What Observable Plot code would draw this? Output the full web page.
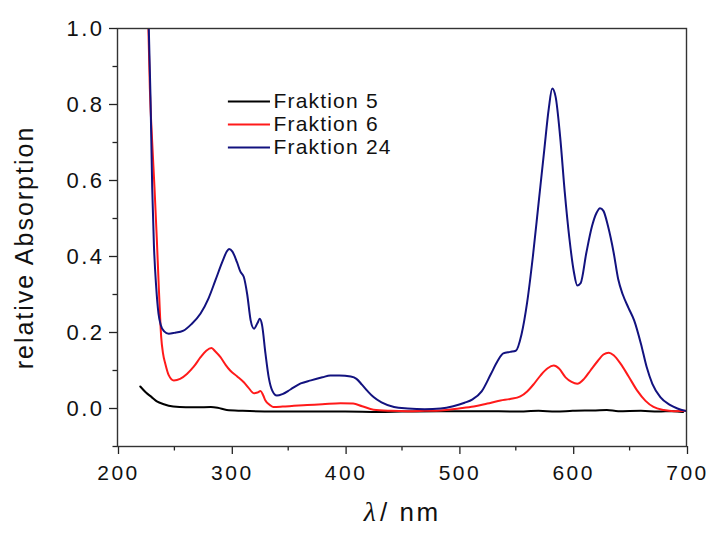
<!DOCTYPE html>
<html>
<head>
<meta charset="utf-8">
<script src="https://cdn.jsdelivr.net/npm/d3@7"></script>
<script src="https://cdn.jsdelivr.net/npm/@observablehq/plot@0.6"></script>
<style>
  html, body { margin: 0; padding: 0; background: #fff; }
  #chart { width: 708px; height: 535px; }
</style>
</head>
<body>
<div id="chart"></div>
<script>
// ---- data ----
const seriesNames = ["Fraktion 5", "Fraktion 6", "Fraktion 24"];
const seriesColors = ["#000000", "#ff1a1a", "#12127f"];

const f5Nm  = [220, 225, 230, 235, 240, 249, 260, 270, 282, 288, 296, 310, 337, 360, 400, 430, 450, 484, 520, 550, 570, 585, 600, 620, 630, 640, 660, 675, 688, 697];
const f5Abs = [0.058, 0.042, 0.030, 0.018, 0.012, 0.005, 0.003, 0.003, 0.004, 0.002, -0.004, -0.006, -0.008, -0.008, -0.008, -0.009, -0.008, -0.007, -0.007, -0.008, -0.006, -0.008, -0.006, -0.005, -0.004, -0.007, -0.006, -0.008, -0.007, -0.009];

const f6Nm  = [226.5, 228.4, 230.5, 232.5, 234.5, 236.3, 238.4, 240, 242, 245, 249.5, 255, 261, 267, 273, 278, 282.6, 286, 290.5, 295, 299, 305, 311, 315, 320, 323, 325.7, 328, 330, 334, 337, 345, 355, 366.7, 380, 396, 407, 415, 425, 440, 455, 470, 484, 500, 513, 525, 536.6, 545, 554, 560, 566, 572, 578, 583.4, 588, 593.7, 599, 604, 610, 615.6, 622, 627, 631.7, 636, 642, 649, 656.7, 664, 671, 680, 688.8, 700];
const f6Abs = [1.08, 0.845, 0.70, 0.582, 0.45, 0.319, 0.188, 0.145, 0.118, 0.088, 0.074, 0.078, 0.091, 0.110, 0.135, 0.152, 0.159, 0.150, 0.135, 0.115, 0.100, 0.085, 0.069, 0.055, 0.040, 0.042, 0.046, 0.035, 0.021, 0.009, 0.004, 0.005, 0.007, 0.009, 0.011, 0.014, 0.013, 0.006, -0.003, -0.006, -0.007, -0.006, -0.005, 0.000, 0.005, 0.013, 0.021, 0.025, 0.032, 0.045, 0.065, 0.088, 0.106, 0.113, 0.105, 0.082, 0.070, 0.065, 0.078, 0.100, 0.125, 0.142, 0.147, 0.140, 0.118, 0.085, 0.047, 0.020, 0.004, -0.004, -0.007, -0.006];

const f24Nm  = [226, 227.5, 229, 230.5, 232, 234, 236, 238, 241, 245, 250, 258, 265, 273, 280, 286, 292, 296, 298, 301, 305, 308, 311, 314, 317, 320, 323, 325, 327, 330, 333, 336, 340, 345, 352, 361, 370, 380, 387, 395, 405, 410, 415, 420, 425, 432, 443, 455, 470, 484, 495, 505, 512, 520, 528, 534, 539, 545, 550, 555, 560, 565, 570, 575, 579, 582, 585, 589, 593, 597, 601, 604, 607, 612, 617, 621, 624, 627, 631, 636, 640, 644, 649, 654, 660, 665, 670, 677, 685, 692, 700];
const f24Abs = [1.08, 1.0, 0.82, 0.58, 0.43, 0.32, 0.25, 0.22, 0.203, 0.197, 0.199, 0.205, 0.222, 0.25, 0.29, 0.337, 0.385, 0.413, 0.42, 0.413, 0.385, 0.36, 0.346, 0.30, 0.232, 0.21, 0.225, 0.236, 0.22, 0.145, 0.08, 0.047, 0.034, 0.038, 0.05, 0.066, 0.074, 0.082, 0.087, 0.087, 0.084, 0.078, 0.062, 0.045, 0.03, 0.016, 0.004, 0.0, -0.002, 0.0, 0.006, 0.015, 0.024, 0.045, 0.09, 0.125, 0.145, 0.149, 0.152, 0.195, 0.28, 0.40, 0.54, 0.68, 0.79, 0.842, 0.82, 0.714, 0.57, 0.45, 0.36, 0.324, 0.33, 0.41, 0.48, 0.515, 0.527, 0.52, 0.48, 0.41, 0.34, 0.30, 0.265, 0.232, 0.17, 0.109, 0.065, 0.03, 0.01, 0.0, -0.007];

const xMajorTicks = [200, 300, 400, 500, 600, 700];
const xMinorTicks = [250, 350, 450, 550, 650];
const yMajorTicks = [0.0, 0.2, 0.4, 0.6, 0.8, 1.0];
const yMinorTicks = [-0.1, 0.1, 0.3, 0.5, 0.7, 0.9];

const xLabel = "/ nm";
const xLabelSymbol = "λ";
const yLabel = "relative Absorption";

// ---- build table ----
const seriesData = [[f5Nm, f5Abs], [f6Nm, f6Abs], [f24Nm, f24Abs]];
const rows = seriesData.flatMap(([nm, ab], k) =>
  nm.map((x, i) => ({nm: x, abs: ab[i], name: seriesNames[k]})));

// legend placed in data units (upper-left region of the frame)
const legend = seriesNames.map((name, i) => ({
  name, x1: 297, x2: 334, xt: 337, y: 0.808 - i * 0.0605
}));

const font = "Arial, 'Liberation Sans', Helvetica, sans-serif";

const chart = Plot.plot({
  width: 708,
  height: 535,
  marginLeft: 117,
  marginRight: 22,
  marginTop: 28,
  marginBottom: 89,
  style: {fontFamily: font, background: "#fff", color: "#111", overflow: "visible"},
  x: {domain: [200, 700]},
  y: {domain: [-0.1, 1.0]},
  color: {domain: seriesNames, range: seriesColors},
  marks: [
    Plot.axisX(xMajorTicks, {tickSize: 8, tickPadding: 11, fontSize: 21, label: null, stroke: "#222", strokeWidth: 1.3, dx: 1}),
    Plot.axisX(xMinorTicks, {tickSize: 4.5, text: null, label: null, stroke: "#222", strokeWidth: 1.3}),
    Plot.axisY(yMajorTicks, {tickSize: 8, tickPadding: 5, fontSize: 22, label: null, stroke: "#222", strokeWidth: 1.3, tickFormat: d3.format(".1f")}),
    Plot.axisY(yMinorTicks, {tickSize: 4.5, text: null, label: null, stroke: "#222", strokeWidth: 1.3}),
    Plot.line(rows, {x: "nm", y: "abs", z: "name", stroke: "name", strokeWidth: 2, clip: true, curve: "monotone-x"}),
    Plot.frame({stroke: "#333", strokeWidth: 1.4}),
    Plot.link(legend, {x1: "x1", x2: "x2", y1: "y", y2: "y", stroke: "name", strokeWidth: 2}),
    Plot.text(legend, {x: "xt", y: "y", text: "name", textAnchor: "start", fontSize: 21, fill: "#111", className: "legtext"}),
    Plot.text([yLabel], {frameAnchor: "left", textAnchor: "middle", dx: -93, dy: 10, rotate: -90, fontSize: 25, fill: "#111", className: "ylab"}),
    Plot.text([xLabelSymbol], {frameAnchor: "bottom", dx: -26, dy: 74, textAnchor: "end", fontSize: 28, fontStyle: "italic", fontFamily: "'Liberation Serif', 'DejaVu Serif', serif", fill: "#111"}),
    Plot.text([xLabel], {frameAnchor: "bottom", dx: -22, dy: 74, textAnchor: "start", fontSize: 26, fill: "#111", className: "xlab"})
  ]
});

document.getElementById("chart").appendChild(chart);

// letter spacing to match the wide lettering of the reference
const svg = d3.select(chart);
svg.selectAll('g[aria-label="x-axis tick label"] text, g[aria-label="y-axis tick label"] text').attr("letter-spacing", "2.5px");
svg.selectAll('.legtext text').attr("letter-spacing", "1.2px");
svg.selectAll('.ylab text').attr("letter-spacing", "2px");
svg.selectAll('.xlab text').attr("letter-spacing", "2.5px");
</script>
</body>
</html>
